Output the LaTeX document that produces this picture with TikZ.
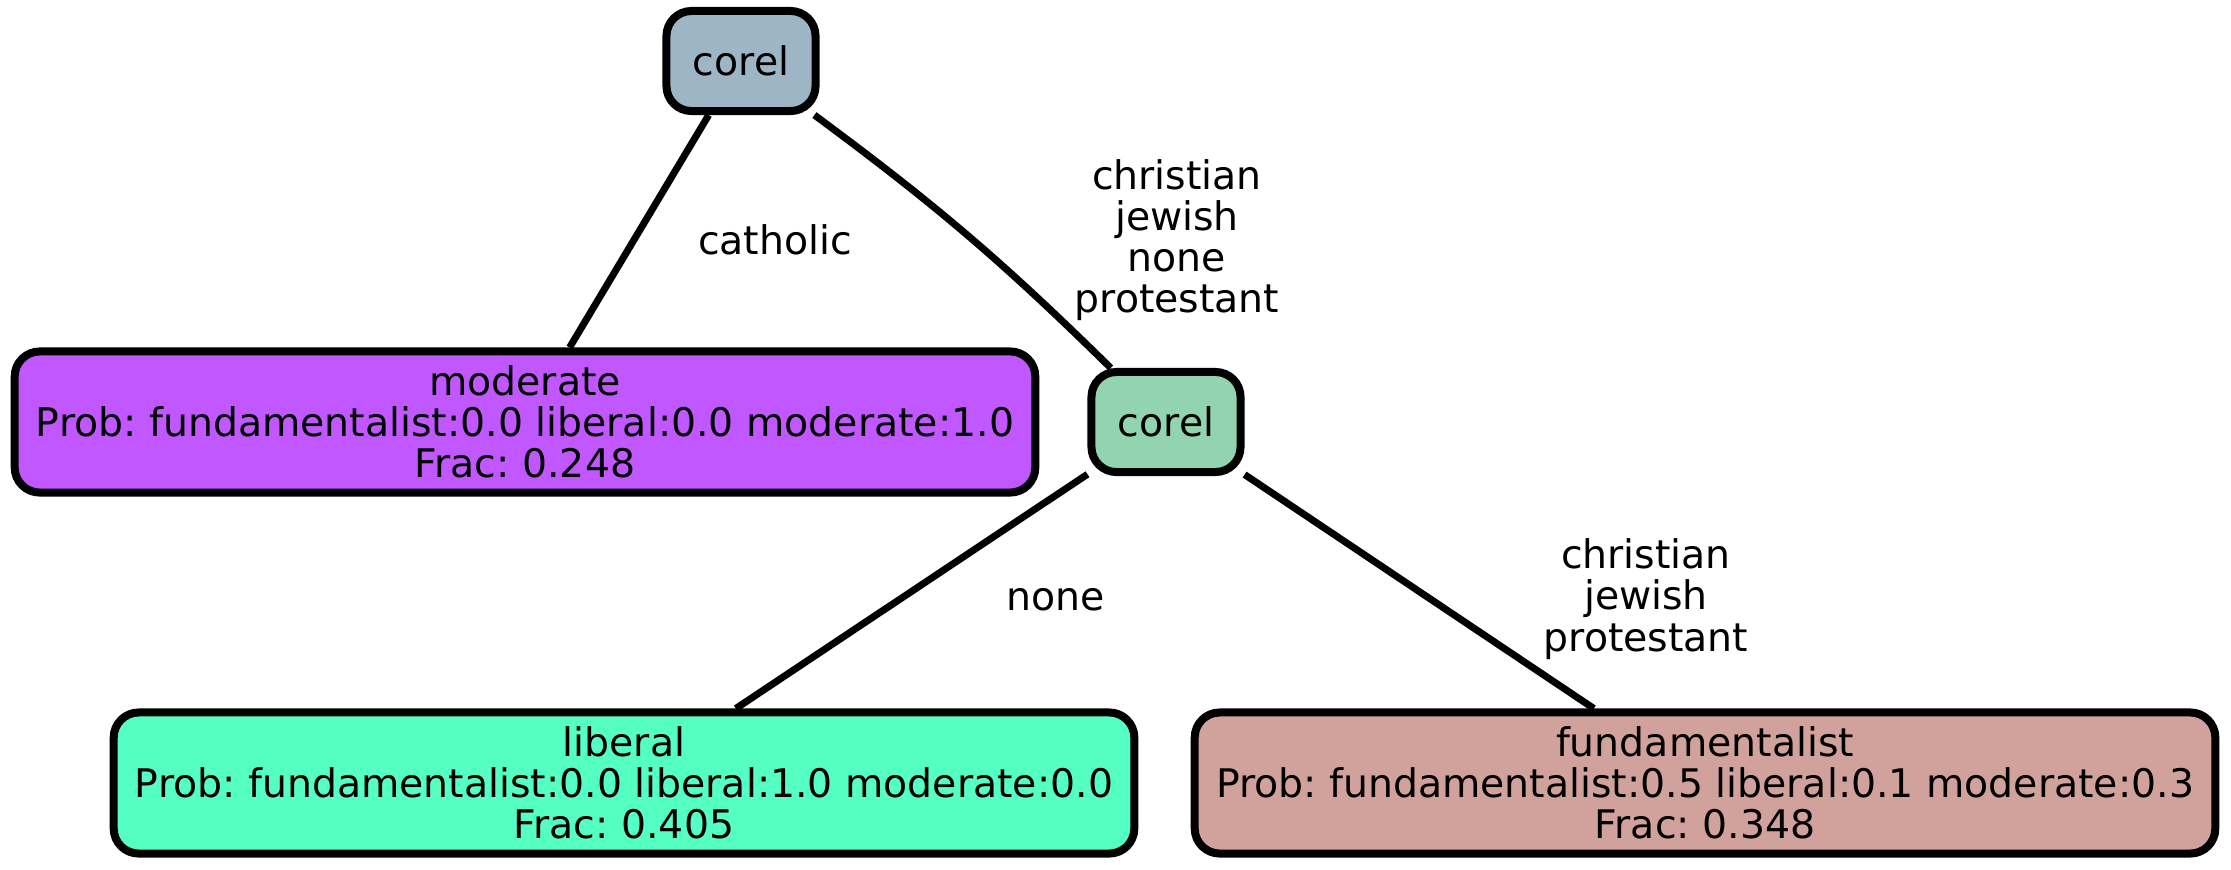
\documentclass[tikz,border=0pt]{standalone}
\usepackage{fontspec}
\setmainfont{DejaVu Sans}
\usepackage{xcolor}
\usepackage{tikz}
\usetikzlibrary{arrows.meta, positioning}
\definecolor{corelgrey}{HTML}{9EB5C5}
\definecolor{corelgreen}{HTML}{92D4AF}
\definecolor{modpurple}{HTML}{C157FF}
\definecolor{libgreen}{HTML}{55FFC3}
\definecolor{fundrose}{HTML}{D1A29B}
\frenchspacing

\begin{document}
\begin{tikzpicture}[
        x=0.01cm, y=-0.01cm,
        box/.style={draw, line width=0.08cm, rounded corners=0.25cm, align=center,
          font=\fontsize{11.2pt}{11.7pt}\selectfont, inner sep=0pt},
        small/.style={box, minimum width=1.49cm, minimum height=1.0cm},
        wide/.style={box, minimum width=10.2cm, minimum height=1.41cm},
        lbl/.style={align=center, font=\fontsize{11.2pt}{11.7pt}\selectfont, inner sep=0pt},
        edge/.style={line width=0.07cm}
      ]
      \useasboundingbox (0,0) rectangle (2231,869);
      \node[small, fill=corelgrey] (top) at (741,61) {corel};
      \node[wide, fill=modpurple] (moderate) at (525,422) {moderate\\Prob: fundamentalist:0.0 liberal:0.0 moderate:1.0\\Frac: 0.248};
      \node[small, fill=corelgreen] (mid) at (1166,422) {corel};
      \node[wide, fill=libgreen] (liberal) at (624,783) {liberal\\Prob: fundamentalist:0.0 liberal:1.0 moderate:0.0\\Frac: 0.405};
      \node[wide, fill=fundrose] (fund) at (1705,783) {fundamentalist\\Prob: fundamentalist:0.5 liberal:0.1 moderate:0.3\\Frac: 0.348};
      \draw[edge] (top) -- (moderate);
      \draw[edge] (top) to[bend left=4] (mid);
      \draw[edge] (mid) -- (liberal);
      \draw[edge] (mid) -- (fund);
      \node[lbl] (catholic) at (775,240) {catholic};
      \node[lbl] (cjnp) at (1177,240) {christian\\jewish\\none\\protestant};
      \node[lbl] (none) at (1056,600) {none};
      \node[lbl] (cjp) at (1646,599) {christian\\jewish\\protestant};
    \end{tikzpicture}
\end{document}
